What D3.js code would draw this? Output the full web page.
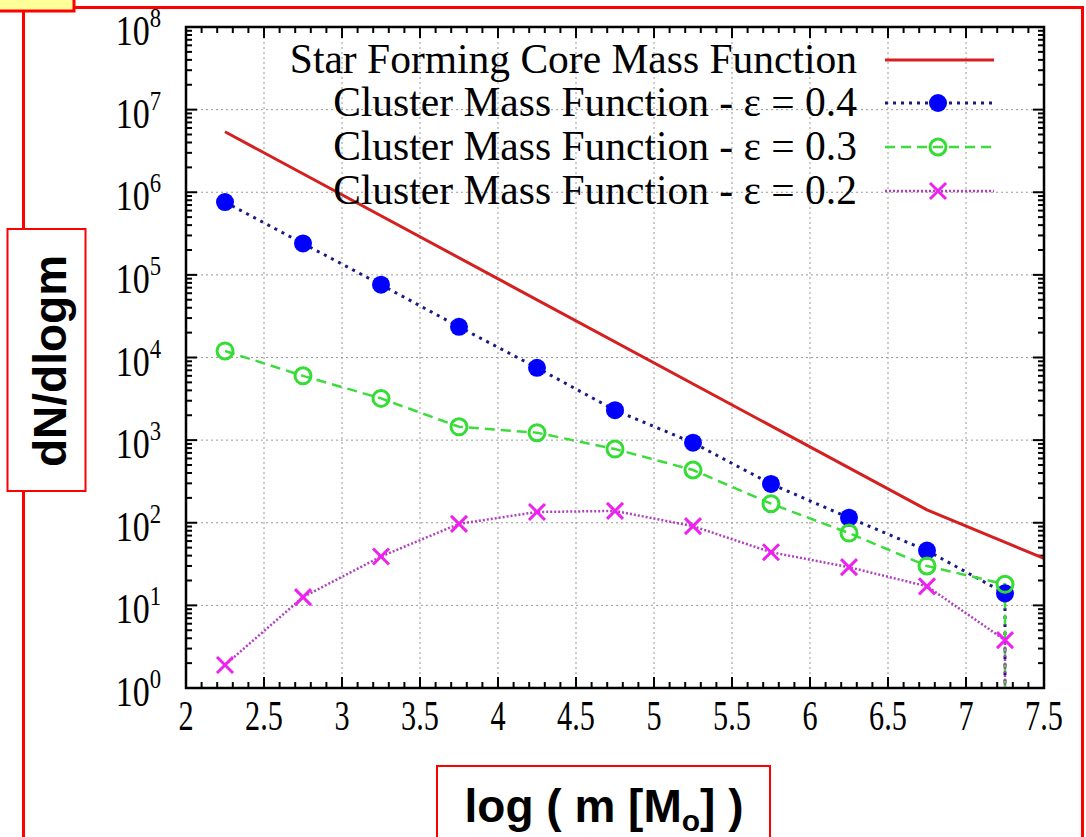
<!DOCTYPE html>
<html>
<head>
<meta charset="utf-8">
<script src="https://cdn.jsdelivr.net/npm/d3@7"></script>
<style>
  body { margin: 0; background: #fff; }
  svg { display: block; }
</style>
</head>
<body>
<div id="chart"></div>
<script>
// data (last point of each cluster curve drops to zero)
var massX = [2.25, 2.75, 3.25, 3.75, 4.25, 4.75, 5.25, 5.75, 6.25, 6.75, 7.25, 7.25];
var eps04 = [7.6e5, 2.4e5, 7.6e4, 2.35e4, 7.5e3, 2.3e3, 930, 295, 115, 46, 14, 0];
var eps03 = [1.2e4, 6.0e3, 3.2e3, 1.45e3, 1.23e3, 780, 435, 170, 75, 30, 18, 0];
var eps02 = [1.9, 12.6, 39, 97, 135, 139, 91, 44, 29, 17, 3.8, 0];
var coreX = [2.25, 6.75, 7.5];
var coreY = [5.4e6, 143, 37];

var xTicks = [2, 2.5, 3, 3.5, 4, 4.5, 5, 5.5, 6, 6.5, 7, 7.5];
var yExps = [0, 1, 2, 3, 4, 5, 6, 7, 8];
var legendLabels = [
  "Star Forming Core Mass Function",
  "Cluster Mass Function - \u03b5 = 0.4",
  "Cluster Mass Function - \u03b5 = 0.3",
  "Cluster Mass Function - \u03b5 = 0.2"
];

var width = 1086, height = 837;
var L = 186, R = 1044, T = 27, B = 688;
var serif = "'Liberation Serif', 'Times New Roman', serif";
var sans = "'Liberation Sans', Arial, sans-serif";

var x = d3.scaleLinear().domain([2, 7.5]).range([L, R]);
var y = d3.scaleLog().domain([1, 1e8]).range([B, T]);

var svg = d3.select("#chart").append("svg")
    .attr("width", width)
    .attr("height", height);

svg.append("defs").append("clipPath").attr("id", "plotclip")
  .append("rect").attr("x", L).attr("y", T).attr("width", R - L).attr("height", B - T);

var g = svg.append("g");

// grid
g.selectAll(".gx").data(xTicks.slice(1, -1)).enter().append("line")
  .attr("x1", function(d){ return x(d); }).attr("x2", function(d){ return x(d); })
  .attr("y1", T).attr("y2", B)
  .attr("stroke", "#999").attr("stroke-width", 1).attr("stroke-dasharray", "2,3");
g.selectAll(".gy").data(yExps.slice(1, -1)).enter().append("line")
  .attr("y1", function(d){ return y(Math.pow(10, d)); }).attr("y2", function(d){ return y(Math.pow(10, d)); })
  .attr("x1", L).attr("x2", R)
  .attr("stroke", "#999").attr("stroke-width", 1).attr("stroke-dasharray", "2,3");

// ticks, mirrored on all sides, pointing in
var xMinor = d3.range(20, 76).map(function(d){ return d / 10; });
var yMinor = [];
for (var e = 0; e < 8; e++) for (var m = 2; m < 10; m++) yMinor.push(m * Math.pow(10, e));
var tk = g.append("g").attr("stroke", "#000").attr("stroke-width", 2);
xMinor.forEach(function(v){
  var len = (Math.round(v * 10) % 5 === 0) ? 11 : 6;
  tk.append("line").attr("x1", x(v)).attr("x2", x(v)).attr("y1", B).attr("y2", B - len);
  tk.append("line").attr("x1", x(v)).attr("x2", x(v)).attr("y1", T).attr("y2", T + len);
});
yExps.forEach(function(d){
  tk.append("line").attr("x1", L).attr("x2", L + 11).attr("y1", y(Math.pow(10, d))).attr("y2", y(Math.pow(10, d)));
  tk.append("line").attr("x1", R).attr("x2", R - 11).attr("y1", y(Math.pow(10, d))).attr("y2", y(Math.pow(10, d)));
});
yMinor.forEach(function(v){
  tk.append("line").attr("x1", L).attr("x2", L + 6).attr("y1", y(v)).attr("y2", y(v));
  tk.append("line").attr("x1", R).attr("x2", R - 6).attr("y1", y(v)).attr("y2", y(v));
});

// tick labels
g.selectAll(".xl").data(xTicks).enter().append("text")
  .attr("transform", function(d){ return "translate(" + x(d) + "," + 730 + ") scale(0.72,1)"; })
  .attr("text-anchor", "middle")
  .attr("font-family", serif).attr("font-size", 42)
  .text(function(d){ return d; });

var yl = g.selectAll(".yl").data(yExps).enter().append("text")
  .attr("transform", function(d){ return "translate(" + 161 + "," + (y(Math.pow(10, d)) + 18) + ") scale(0.81,1)"; })
  .attr("text-anchor", "end")
  .attr("font-family", serif).attr("font-size", 42);
yl.append("tspan").text("10");
yl.append("tspan").attr("font-size", 28).attr("dy", -18).text(function(d){ return d; });

// series
var plot = g.append("g").attr("clip-path", "url(#plotclip)");
var line = d3.line()
  .x(function(d){ return x(d[0]); })
  .y(function(d){ return y(Math.max(d[1], 1e-3)); });

function pairs(xs, ys) { return xs.map(function(v, i){ return [v, ys[i]]; }); }

var series = [
  { pts: pairs(coreX, coreY), color: "#d42020", dash: null, w: 3, marker: "none", mcolor: "#d42020" },
  { pts: pairs(massX, eps04), color: "#1a1a80", dash: "3,5", w: 3, marker: "dot", mcolor: "#0000ff" },
  { pts: pairs(massX, eps03), color: "#3ddc3d", dash: "10,6", w: 2.5, marker: "ring", mcolor: "#33dd33" },
  { pts: pairs(massX, eps02), color: "#b040c0", dash: "2,2", w: 2.5, marker: "cross", mcolor: "#ee22ee" }
];

function drawMarker(sel, kind, color, cx, cy) {
  if (kind === "dot") {
    sel.append("circle").attr("cx", cx).attr("cy", cy).attr("r", 9).attr("fill", color);
  } else if (kind === "ring") {
    sel.append("circle").attr("cx", cx).attr("cy", cy).attr("r", 8)
      .attr("fill", "none").attr("stroke", color).attr("stroke-width", 3);
  } else if (kind === "cross") {
    var s = 8;
    sel.append("path")
      .attr("d", "M" + (cx - s) + "," + (cy - s) + "L" + (cx + s) + "," + (cy + s) +
                 "M" + (cx - s) + "," + (cy + s) + "L" + (cx + s) + "," + (cy - s))
      .attr("stroke", color).attr("stroke-width", 3);
  }
}

series.forEach(function(s){
  plot.append("path").datum(s.pts)
    .attr("d", line)
    .attr("fill", "none")
    .attr("stroke", s.color)
    .attr("stroke-width", s.w)
    .attr("stroke-dasharray", s.dash);
});
series.forEach(function(s){
  s.pts.filter(function(p){ return p[1] > 0; }).forEach(function(p){
    drawMarker(plot, s.marker, s.mcolor, x(p[0]), y(p[1]));
  });
});

// legend
var legRows = [60, 103, 147, 191];
series.forEach(function(s, i){
  var ly = legRows[i];
  g.append("text")
    .attr("x", 857).attr("y", ly + 13)
    .attr("text-anchor", "end")
    .attr("font-family", serif).attr("font-size", 41.5)
    .text(legendLabels[i]);
  g.append("line").attr("x1", 885).attr("x2", 994).attr("y1", ly).attr("y2", ly)
    .attr("stroke", s.color).attr("stroke-width", s.w).attr("stroke-dasharray", s.dash);
  drawMarker(g, s.marker, s.mcolor, 938, ly);
});

// frame
g.append("rect").attr("x", L).attr("y", T).attr("width", R - L).attr("height", B - T)
  .attr("fill", "none").attr("stroke", "#000").attr("stroke-width", 2.5);

// slide annotations: red frame, label boxes and the yellow tab
var red = "#ff0000";
var ann = svg.append("g").attr("fill", "none").attr("stroke", red).attr("stroke-width", 3);
ann.append("path").attr("d", "M74,7.5H1082.5V837");
ann.append("path").attr("d", "M23.5,11V229");
ann.append("path").attr("d", "M23.5,491V837");
ann.append("rect").attr("x", 7.5).attr("y", 229).attr("width", 78).attr("height", 262).attr("stroke-width", 2);
ann.append("rect").attr("x", 437).attr("y", 766).attr("width", 333).attr("height", 90).attr("stroke-width", 2);
svg.append("rect").attr("x", -2).attr("y", -2).attr("width", 76).attr("height", 13)
  .attr("fill", "#ffff99").attr("stroke", red).attr("stroke-width", 3);

svg.append("text")
  .attr("transform", "translate(66,361) rotate(-90)")
  .attr("text-anchor", "middle")
  .attr("font-family", sans).attr("font-weight", "bold").attr("font-size", 46)
  .text("dN/dlogm");

var xt = svg.append("text")
  .attr("x", 604).attr("y", 822)
  .attr("text-anchor", "middle")
  .attr("font-family", sans).attr("font-weight", "bold").attr("font-size", 46);
xt.append("tspan").text("log ( m [M");
xt.append("tspan").attr("font-size", 30).attr("dy", 9).text("o");
xt.append("tspan").attr("dy", -9).text("] )");
</script>
</body>
</html>
